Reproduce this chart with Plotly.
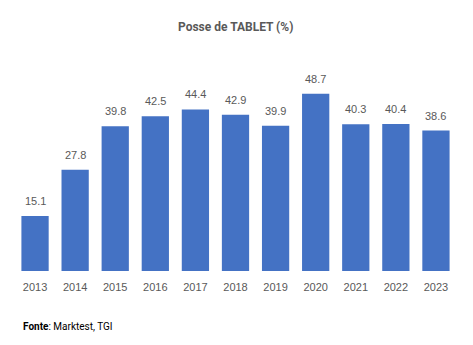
import plotly.graph_objects as go

years = ["2013", "2014", "2015", "2016", "2017", "2018", "2019", "2020", "2021", "2022", "2023"]
values = [15.1, 27.8, 39.8, 42.5, 44.4, 42.9, 39.9, 48.7, 40.3, 40.4, 38.6]

fig = go.Figure()
fig.add_trace(go.Bar(x=years, y=values, marker_color="#4472C4", marker_line_width=0,
                     hoverinfo="x+y"))

for i, v in enumerate(values):
    fig.add_annotation(x=i, y=v, text=f"{v:.1f}", showarrow=False, yanchor="bottom",
                       yshift=7, font=dict(family="Liberation Sans, Arial", size=11, color="#595959"))

fig.add_annotation(xref="paper", yref="paper", x=0.5, y=1, yshift=34, xanchor="center", yanchor="middle",
                   text="<b>Posse de TABLET (%)</b>", showarrow=False,
                   font=dict(family="Roboto", size=12, color="#595959"))
fig.add_annotation(xref="paper", yref="paper", x=0, xshift=6, y=0, yshift=-55, xanchor="left", yanchor="middle",
                   text="<b>Fonte</b>: Marktest, TGI", showarrow=False,
                   font=dict(family="Roboto", size=10, color="#000000"))

fig.update_layout(
    width=473, height=345,
    margin=dict(l=15, r=17, t=61, b=74),
    plot_bgcolor="white", paper_bgcolor="white",
    bargap=0.32,
    showlegend=False,
    xaxis=dict(type="category", showline=False, ticks="", showgrid=False, ticklabelstandoff=8,
               tickfont=dict(family="Liberation Sans, Arial", size=11, color="#595959")),
    yaxis=dict(range=[0, 57.7], visible=False, showgrid=False),
)

fig.write_html("out.html")
